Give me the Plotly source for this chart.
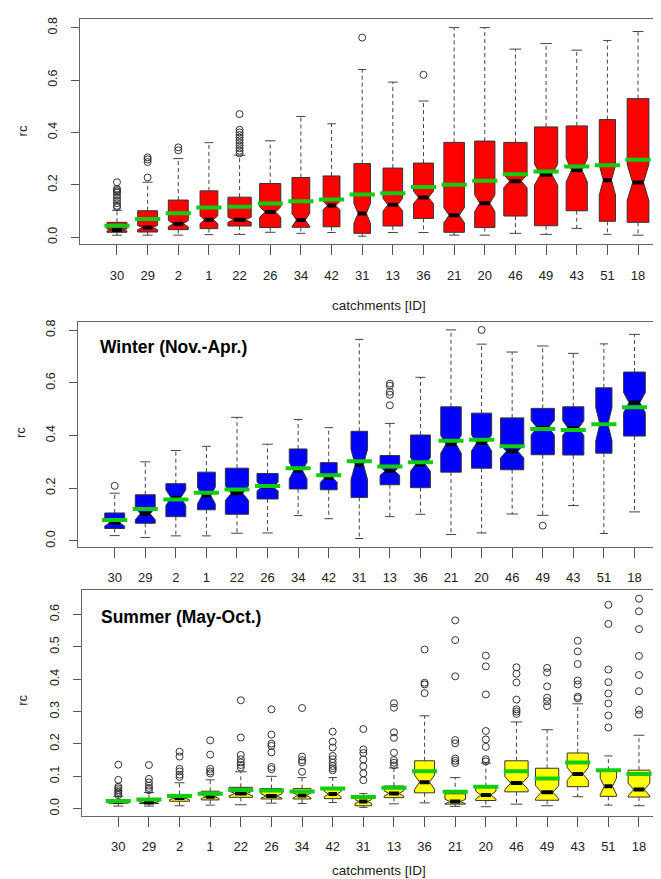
import plotly.graph_objects as go

# ---------------- data ----------------
catchments = ["30", "29", "2", "1", "22", "26", "34", "42", "31", "13",
              "36", "21", "20", "46", "49", "43", "51", "18"]
# relative box widths (varwidth, category units)
box_width = [0.65, 0.65, 0.65, 0.58, 0.76, 0.69, 0.58, 0.55, 0.54, 0.64,
             0.65, 0.67, 0.66, 0.76, 0.76, 0.69, 0.53, 0.71]

# ---- annual ----
ann_q1 = [0.019, 0.020, 0.029, 0.033, 0.043, 0.037, 0.038, 0.040, 0.015, 0.043,
          0.072, 0.019, 0.037, 0.081, 0.044, 0.101, 0.061, 0.057]
ann_med = [0.028, 0.037, 0.052, 0.067, 0.067, 0.096, 0.066, 0.121, 0.091, 0.124,
           0.152, 0.084, 0.130, 0.214, 0.239, 0.256, 0.218, 0.209]
ann_q3 = [0.057, 0.101, 0.142, 0.177, 0.153, 0.205, 0.228, 0.234, 0.281, 0.264,
          0.283, 0.362, 0.367, 0.362, 0.421, 0.425, 0.449, 0.529]
ann_mean = [0.044, 0.070, 0.092, 0.114, 0.116, 0.129, 0.137, 0.144, 0.163, 0.168,
            0.192, 0.200, 0.216, 0.240, 0.251, 0.270, 0.275, 0.296]
ann_lw = [0.008, 0.008, 0.008, 0.010, 0.011, 0.019, 0.015, 0.018, 0.004, 0.018,
          0.018, 0.008, 0.008, 0.015, 0.011, 0.034, 0.011, 0.008]
ann_uw = [0.103, 0.210, 0.300, 0.361, 0.313, 0.368, 0.461, 0.433, 0.640, 0.592,
          0.520, 0.800, 0.800, 0.718, 0.739, 0.714, 0.751, 0.785]
ann_notch = [0.004, 0.008, 0.012, 0.015, 0.010, 0.020, 0.025, 0.016, 0.038, 0.024,
             0.024, 0.029, 0.032, 0.025, 0.041, 0.045, 0.057, 0.070]
ann_out = [[0.115, 0.12, 0.13, 0.14, 0.15, 0.16, 0.17, 0.175, 0.18, 0.185, 0.21],
           [0.228, 0.287, 0.297, 0.305],
           [0.332, 0.343],
           [],
           [0.32, 0.33, 0.34, 0.35, 0.36, 0.37, 0.38, 0.39, 0.40, 0.41, 0.47],
           [], [], [],
           [0.762],
           [],
           [0.620],
           [], [], [], [], [], [], []]

# ---- winter ----
win_q1 = [0.047, 0.067, 0.092, 0.118, 0.101, 0.159, 0.197, 0.194, 0.165, 0.213,
          0.202, 0.261, 0.276, 0.270, 0.327, 0.326, 0.333, 0.398]
win_med = [0.069, 0.103, 0.164, 0.172, 0.181, 0.206, 0.267, 0.239, 0.290, 0.265,
           0.290, 0.367, 0.372, 0.340, 0.430, 0.428, 0.443, 0.525]
win_q3 = [0.106, 0.175, 0.217, 0.261, 0.276, 0.256, 0.349, 0.297, 0.416, 0.324,
          0.402, 0.509, 0.485, 0.467, 0.503, 0.509, 0.581, 0.641]
win_mean = [0.079, 0.121, 0.157, 0.183, 0.195, 0.208, 0.276, 0.249, 0.302, 0.282,
            0.299, 0.380, 0.384, 0.359, 0.425, 0.421, 0.443, 0.507]
win_lw = [0.020, 0.013, 0.019, 0.019, 0.029, 0.030, 0.096, 0.084, 0.009, 0.092,
          0.101, 0.024, 0.030, 0.102, 0.097, 0.134, 0.028, 0.110]
win_uw = [0.181, 0.300, 0.343, 0.359, 0.469, 0.367, 0.461, 0.430, 0.765, 0.446,
          0.621, 0.801, 0.747, 0.717, 0.740, 0.712, 0.748, 0.784]
win_notch = [0.013, 0.023, 0.030, 0.032, 0.028, 0.017, 0.032, 0.017, 0.057, 0.016,
             0.026, 0.034, 0.031, 0.025, 0.028, 0.028, 0.063, 0.038]
win_out = [[0.209], [], [], [], [], [], [], [], [],
           [0.515, 0.555, 0.566, 0.589, 0.597],
           [], [], [0.801], [], [0.058], [], [], []]

# ---- summer ----
sum_q1 = [0.017, 0.016, 0.023, 0.027, 0.035, 0.030, 0.030, 0.031, 0.009, 0.034,
          0.049, 0.014, 0.025, 0.052, 0.026, 0.068, 0.038, 0.036]
sum_med = [0.021, 0.019, 0.033, 0.037, 0.047, 0.039, 0.041, 0.045, 0.022, 0.047,
           0.082, 0.022, 0.042, 0.079, 0.051, 0.107, 0.069, 0.059]
sum_q3 = [0.027, 0.031, 0.044, 0.054, 0.066, 0.062, 0.062, 0.064, 0.033, 0.070,
          0.148, 0.046, 0.068, 0.148, 0.125, 0.172, 0.119, 0.119]
sum_mean = [0.024, 0.028, 0.039, 0.046, 0.058, 0.056, 0.053, 0.062, 0.036, 0.065,
            0.116, 0.052, 0.068, 0.116, 0.093, 0.143, 0.119, 0.107]
sum_lw = [0.008, 0.008, 0.009, 0.011, 0.012, 0.017, 0.016, 0.019, 0.004, 0.015,
          0.018, 0.007, 0.006, 0.014, 0.009, 0.037, 0.011, 0.009]
sum_uw = [0.038, 0.050, 0.080, 0.089, 0.114, 0.100, 0.096, 0.096, 0.047, 0.126,
          0.287, 0.096, 0.141, 0.268, 0.244, 0.324, 0.163, 0.227]
sum_notch = [0.002, 0.003, 0.005, 0.006, 0.007, 0.007, 0.008, 0.008, 0.006, 0.008,
             0.022, 0.007, 0.012, 0.020, 0.020, 0.020, 0.025, 0.020]
sum_out = [[0.042, 0.047, 0.052, 0.057, 0.063, 0.068, 0.089, 0.136],
           [0.057, 0.064, 0.071, 0.081, 0.092, 0.135],
           [0.098, 0.105, 0.115, 0.123, 0.161, 0.176],
           [0.109, 0.115, 0.123, 0.167, 0.211],
           [0.127, 0.135, 0.143, 0.153, 0.166, 0.220, 0.335],
           [0.122, 0.129, 0.174, 0.194, 0.201, 0.229, 0.307],
           [0.114, 0.143, 0.150, 0.161, 0.311],
           [0.119, 0.125, 0.132, 0.142, 0.153, 0.163, 0.189, 0.207, 0.238],
           [0.088, 0.109, 0.131, 0.152, 0.172, 0.183, 0.246],
           [0.134, 0.142, 0.150, 0.173, 0.219, 0.236, 0.312, 0.326],
           [0.357, 0.384, 0.389, 0.492],
           [0.141, 0.148, 0.155, 0.202, 0.212, 0.409, 0.521, 0.582],
           [0.146, 0.153, 0.191, 0.214, 0.240, 0.353, 0.440, 0.473],
           [0.293, 0.300, 0.307, 0.337, 0.390, 0.417, 0.437],
           [0.317, 0.332, 0.343, 0.378, 0.421, 0.435],
           [0.341, 0.346, 0.384, 0.396, 0.447, 0.486, 0.519],
           [0.251, 0.288, 0.325, 0.356, 0.391, 0.430, 0.571, 0.630],
           [0.291, 0.305, 0.363, 0.413, 0.472, 0.555, 0.610, 0.649]]

# ---------------- layout geometry (pixels) ----------------
W, H = 661, 879
FONT = "Liberation Sans, Arial, sans-serif"

panels = [
    dict(q1=ann_q1, med=ann_med, q3=ann_q3, mean=ann_mean, lw=ann_lw, uw=ann_uw,
         notch=ann_notch, out=ann_out, fill="#FF0000",
         left=72.3, top=8.0, bottom=234.3, xr=[-0.197, 19.01],
         yr=[-0.0266, 0.833], dt=0.2, ymax=0.8),
    dict(q1=win_q1, med=win_med, q3=win_q3, mean=win_mean, lw=win_lw, uw=win_uw,
         notch=win_notch, out=win_out, fill="#0000FF",
         left=69.7, top=312.7, bottom=538.3, xr=[-0.21, 19.13],
         yr=[-0.0227, 0.830], dt=0.2, ymax=0.8),
    dict(q1=sum_q1, med=sum_med, q3=sum_q3, mean=sum_mean, lw=sum_lw, uw=sum_uw,
         notch=sum_notch, out=sum_out, fill="#FFFF00",
         left=73.7, top=581.7, bottom=808.3, xr=[-0.195, 18.98],
         yr=[-0.0215, 0.6757], dt=0.1, ymax=0.6),
]

fig = go.Figure()
pos = list(range(1, len(catchments) + 1))
MEAN_HALF = 0.41

for k, p in enumerate(panels):
    xa = "x" if k == 0 else f"x{k+1}"
    ya = "y" if k == 0 else f"y{k+1}"
    bx, by = [], []
    wx, wy = [], []
    sx, sy = [], []
    mx, my = [], []
    ex, ey = [], []
    ox, oy = [], []
    for i, x in enumerate(pos):
        w = box_width[i] / 2.0
        q1, md, q3 = p["q1"][i], p["med"][i], p["q3"][i]
        nh = p["notch"][i]
        bx += [x - w, x - w, x - w / 2, x - w, x - w, x + w, x + w, x + w / 2, x + w, x + w, x - w, None]
        by += [q1, md - nh, md, md + nh, q3, q3, md + nh, md, md - nh, q1, q1, None]
        wx += [x, x, None, x, x, None]
        wy += [q3, p["uw"][i], None, q1, p["lw"][i], None]
        sx += [x - w / 2, x + w / 2, None, x - w / 2, x + w / 2, None]
        sy += [p["uw"][i], p["uw"][i], None, p["lw"][i], p["lw"][i], None]
        mx += [x - w / 2, x + w / 2, None]
        my += [md, md, None]
        ex += [x - MEAN_HALF, x + MEAN_HALF, None]
        ey += [p["mean"][i], p["mean"][i], None]
        for v in p["out"][i]:
            ox.append(x)
            oy.append(v)
    common = dict(xaxis=xa, yaxis=ya, showlegend=False, hoverinfo="skip")
    fig.add_trace(go.Scatter(x=wx, y=wy, mode="lines",
                             line=dict(color="#444444", width=1, dash="4px,3px"), **common))
    fig.add_trace(go.Scatter(x=sx, y=sy, mode="lines",
                             line=dict(color="#444444", width=1), **common))
    fig.add_trace(go.Scatter(x=bx, y=by, mode="lines", fill="toself", fillcolor=p["fill"],
                             line=dict(color="#333333", width=1), **common))
    fig.add_trace(go.Scatter(x=mx, y=my, mode="lines",
                             line=dict(color="#000000", width=4), **common))
    fig.add_trace(go.Scatter(x=ex, y=ey, mode="lines",
                             line=dict(color="#11CC11", width=4), **common))
    fig.add_trace(go.Scatter(x=ox, y=oy, mode="markers",
                             marker=dict(symbol="circle-open", size=7,
                                         line=dict(color="#333333", width=1), color="#333333"),
                             **common))

    ydom = [1 - p["bottom"] / H, 1 - p["top"] / H]
    xdom = [p["left"] / W, 1.0]
    nt = int(round(p["ymax"] / p["dt"])) + 1
    yt = [round(j * p["dt"], 1) for j in range(nt)]
    xkey = "xaxis" if k == 0 else f"xaxis{k+1}"
    ykey = "yaxis" if k == 0 else f"yaxis{k+1}"
    fig.update_layout(**{
        xkey: dict(domain=xdom, anchor=ya, range=p["xr"], tickmode="array",
                   tickvals=pos, ticktext=catchments, showline=True, mirror=True,
                   linecolor="#666666", linewidth=1, ticks="outside", ticklen=10,
                   tickcolor="#555555", showgrid=False, zeroline=False,
                   ticklabelstandoff=9,
                   tickfont=dict(family=FONT, size=13, color="#222222")),
        ykey: dict(domain=ydom, anchor=xa, range=p["yr"], tickmode="array",
                   tickvals=yt, ticktext=[f"{v:.1f}" for v in yt], showline=True,
                   mirror=False, linecolor="#666666", linewidth=1, ticks="outside",
                   ticklen=8, tickcolor="#555555", showgrid=False, zeroline=False,
                   tickangle=-90, ticklabelstandoff=9,
                   tickfont=dict(family=FONT, size=12.5, color="#222222")),
    })

ann = []
def px(xp, yp):
    return xp / W, 1 - yp / H

for (cx, cy) in [(14, 121), (12, 424), (15, 693)]:
    ax_, ay_ = px(cx, cy)
    ann.append(dict(x=ax_, y=ay_, xref="paper", yref="paper", text="rc", showarrow=False,
                    textangle=-90, xanchor="center", yanchor="middle",
                    font=dict(family=FONT, size=13, color="#222222")))
for (cx, cy) in [(371, 296), (371, 863)]:
    ax_, ay_ = px(cx, cy)
    ann.append(dict(x=ax_, y=ay_, xref="paper", yref="paper", text="catchments [ID]",
                    showarrow=False, xanchor="center", yanchor="middle", borderpad=0,
                    font=dict(family=FONT, size=13.5, color="#222222")))
for (tx, cx, cy) in [("Winter (Nov.-Apr.)", 90, 338), ("Summer (May-Oct.)", 91, 609)]:
    ax_, ay_ = px(cx, cy)
    ann.append(dict(x=ax_, y=ay_, xref="paper", yref="paper", text=f"<b>{tx}</b>",
                    showarrow=False, xanchor="left", yanchor="middle",
                    font=dict(family=FONT, size=17.5, color="#000000")))

fig.update_layout(width=W, height=H, margin=dict(l=0, r=0, t=0, b=0),
                  paper_bgcolor="white", plot_bgcolor="white", annotations=ann)

fig.write_html("out.html")
